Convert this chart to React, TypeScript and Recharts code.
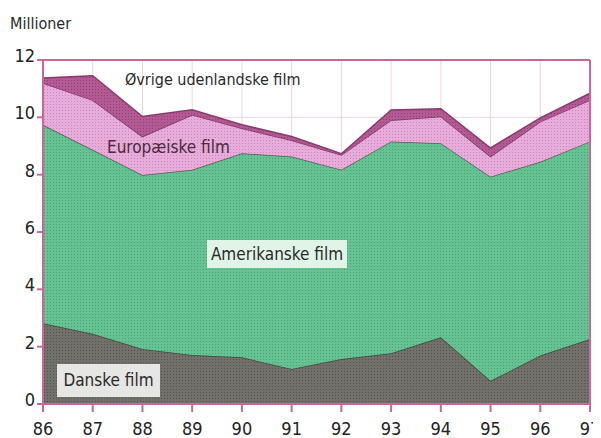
import React from 'react';
import { AreaChart, Area, XAxis, YAxis, CartesianGrid, ReferenceLine } from 'recharts';

const years = [86, 87, 88, 89, 90, 91, 92, 93, 94, 95, 96, 97];
const danske = [2.82, 2.45, 1.92, 1.71, 1.63, 1.22, 1.57, 1.77, 2.33, 0.81, 1.69, 2.27];
const amerikanske = [6.92, 6.42, 6.07, 6.46, 7.12, 7.41, 6.6, 7.39, 6.77, 7.12, 6.76, 6.89];
const europaeiske = [1.46, 1.73, 1.34, 1.92, 0.87, 0.57, 0.52, 0.74, 0.93, 0.7, 1.4, 1.44];
const oevrige = [0.17, 0.85, 0.7, 0.17, 0.12, 0.13, 0.04, 0.36, 0.27, 0.3, 0.13, 0.24];
const yTicks = [0, 2, 4, 6, 8, 10, 12];

const data = years.map((y, i) => ({
  year: y,
  danske: danske[i],
  amerikanske: amerikanske[i],
  europaeiske: europaeiske[i],
  oevrige: oevrige[i],
}));

const FONT = '"DejaVu Sans Condensed", "DejaVu Sans", sans-serif';
const AXIS = '#c8689a';

const XTick = (props: any) => {
  const { x, y, payload } = props;
  return (
    <text x={x} y={y} dy={21} textAnchor="middle" fontFamily={FONT} fontSize={18} fill="#222">
      {payload.value}
    </text>
  );
};

const YTick = (props: any) => {
  const { x, y, payload } = props;
  return (
    <text x={x} y={y} dy={2} textAnchor="end" fontFamily={FONT} fontSize={18} fill="#222">
      {payload.value}
    </text>
  );
};

const labelStyle: React.CSSProperties = {
  position: 'absolute',
  fontFamily: FONT,
  color: '#2a2a2a',
  whiteSpace: 'nowrap',
  lineHeight: 1,
};

export default function App() {
  return (
    <div style={{ position: 'relative', width: 593, height: 430 }}>
      <AreaChart
        width={593}
        height={438}
        data={data}
        margin={{ top: 52, right: 11, bottom: 16, left: 0 }}
      >
        <defs>
          <pattern id="pGreen" width="3" height="3" patternUnits="userSpaceOnUse">
            <rect width="3" height="3" fill="#66c292" />
            <rect width="1" height="1" fill="#48a474" />
          </pattern>
          <pattern id="pGray" width="3" height="3" patternUnits="userSpaceOnUse">
            <rect width="3" height="3" fill="#72706a" />
            <rect width="1" height="1" fill="#55534f" />
          </pattern>
          <pattern id="pPink" width="3" height="3" patternUnits="userSpaceOnUse">
            <rect width="3" height="3" fill="#e8acda" />
            <rect width="1" height="1" fill="#c886ba" />
          </pattern>
          <pattern id="pMag" width="3" height="3" patternUnits="userSpaceOnUse">
            <rect width="3" height="3" fill="#b45a92" />
            <rect width="1" height="1" fill="#94407a" />
          </pattern>
        </defs>
        <CartesianGrid stroke="#efd3e2" strokeWidth={1} />
        <XAxis
          dataKey="year"
          type="number"
          domain={[86, 97]}
          ticks={years}
          interval={0}
          height={26}
          stroke={AXIS}
          strokeWidth={2}
          tickSize={8}
          tick={<XTick />}
        />
        <YAxis
          type="number"
          domain={[0, 12]}
          ticks={yTicks}
          interval={0}
          width={35}
          stroke={AXIS}
          strokeWidth={2}
          tickSize={6}
          tick={<YTick />}
        />
        <Area type="linear" dataKey="danske" stackId="s" stroke="#3d4a3e" strokeWidth={1.5} fill="url(#pGray)" fillOpacity={1} isAnimationActive={false} />
        <Area type="linear" dataKey="amerikanske" stackId="s" stroke="#5a5a5a" strokeWidth={1.5} fill="url(#pGreen)" fillOpacity={1} isAnimationActive={false} />
        <Area type="linear" dataKey="europaeiske" stackId="s" stroke="#7a3a66" strokeWidth={1.5} fill="url(#pPink)" fillOpacity={1} isAnimationActive={false} />
        <Area type="linear" dataKey="oevrige" stackId="s" stroke="#8a3a70" strokeWidth={1.5} fill="url(#pMag)" fillOpacity={1} isAnimationActive={false} />
        <ReferenceLine y={12} stroke={AXIS} strokeWidth={2} />
        <ReferenceLine x={97} stroke={AXIS} strokeWidth={2} />
      </AreaChart>
      <div style={{ ...labelStyle, left: 2, top: 8, fontSize: 16 }}>Millioner</div>
      <div style={{ ...labelStyle, left: 117, top: 64, fontSize: 16 }}>Øvrige udenlandske film</div>
      <div style={{ ...labelStyle, left: 99, top: 131, fontSize: 17, color: '#4a2a40' }}>Europæiske film</div>
      <div
        style={{
          ...labelStyle,
          left: 199,
          top: 232,
          width: 140,
          height: 28,
          background: 'rgba(236,248,240,0.92)',
          fontSize: 17,
          display: 'flex',
          alignItems: 'center',
          justifyContent: 'center',
        }}
      >
        Amerikanske film
      </div>
      <div
        style={{
          ...labelStyle,
          left: 49,
          top: 356,
          width: 103,
          height: 33,
          background: '#e6e6e4',
          fontSize: 17,
          display: 'flex',
          alignItems: 'center',
          justifyContent: 'center',
        }}
      >
        Danske film
      </div>
    </div>
  );
}
